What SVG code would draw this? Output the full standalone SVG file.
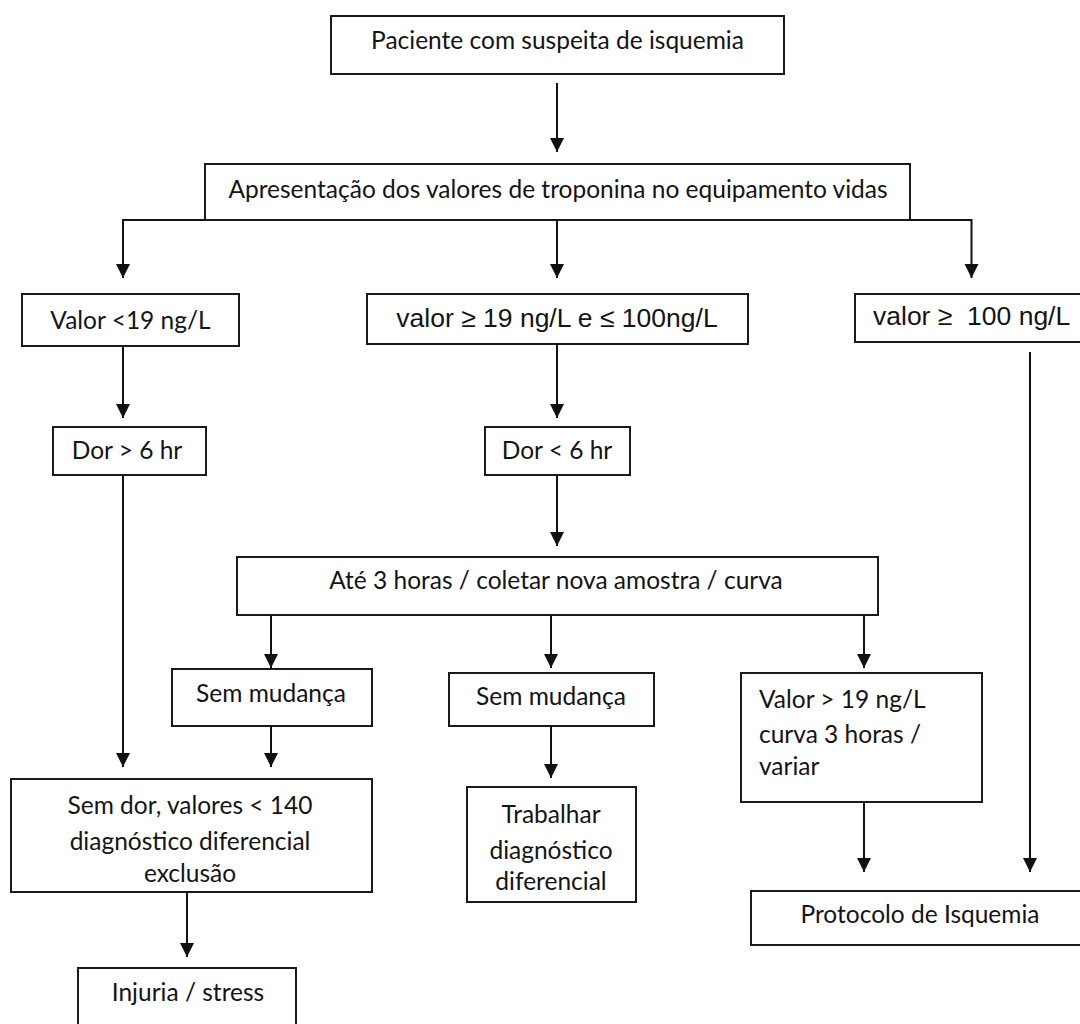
<svg xmlns="http://www.w3.org/2000/svg" width="1080" height="1024" viewBox="0 0 1080 1024">
<defs>
<marker id="arr" markerUnits="userSpaceOnUse" markerWidth="16" markerHeight="16" refX="14" refY="7" orient="auto">
<path d="M0,0 L14,7 L0,14 z" fill="#111"/>
</marker>
<style>
.box{fill:#fff;stroke:#1a1a1a;stroke-width:2}
.t{font-family:Lato,"Liberation Sans",sans-serif;font-size:24.5px;fill:#141414;text-anchor:middle}
.a{font-family:"Liberation Sans",Arial,sans-serif;font-size:26.5px;fill:#141414;text-anchor:middle}
.l{font-family:Lato,"Liberation Sans",sans-serif;font-size:24.5px;fill:#141414}
.c{fill:none;stroke:#111;stroke-width:2}
.ca{fill:none;stroke:#111;stroke-width:2;marker-end:url(#arr)}
</style>
</defs>
<rect width="1080" height="1024" fill="#fff"/>
<g id="n1"><rect class="box" x="331" y="16" width="453" height="58"/><text class="t" x="557.5" y="49">Paciente com suspeita de isquemia</text></g>
<g id="n2"><rect class="box" x="205" y="164" width="705" height="56"/><text class="t" x="558" y="198">Apresentação dos valores de troponina no equipamento vidas</text></g>
<g id="n3"><rect class="box" x="22" y="294" width="217" height="52"/><text class="t" x="130.5" y="329">Valor &lt;19 ng/L</text></g>
<g id="n4"><rect class="box" x="367" y="294" width="381" height="50"/><text class="a" x="557" y="327">valor ≥ 19 ng/L e ≤ 100ng/L</text></g>
<g id="n5"><rect class="box" x="855" y="294" width="235" height="48"/><text class="a" x="873" y="325" style="text-anchor:start" xml:space="preserve">valor ≥  100 ng/L</text></g>
<g id="n6"><rect class="box" x="53" y="427" width="153" height="48"/><text class="t" x="127" y="459">Dor &gt; 6 hr</text></g>
<g id="n7"><rect class="box" x="485" y="427" width="145" height="48"/><text class="t" x="557" y="459">Dor &lt; 6 hr</text></g>
<g id="n8"><rect class="box" x="237" y="557" width="641" height="58"/><text class="t" x="556" y="589">Até 3 horas / coletar nova amostra / curva</text></g>
<g id="n9"><rect class="box" x="172" y="669" width="200" height="57"/><text class="t" x="271" y="702">Sem mudança</text></g>
<g id="n10"><rect class="box" x="449" y="673" width="205" height="53"/><text class="t" x="551" y="705">Sem mudança</text></g>
<g id="n11"><rect class="box" x="741" y="673" width="241" height="129"/><text class="l" x="759" y="708">Valor &gt; 19 ng/L</text><text class="l" x="759" y="743">curva 3 horas /</text><text class="l" x="759" y="775">variar</text></g>
<g id="n12"><rect class="box" x="11" y="779" width="361" height="113"/><text class="t" x="190" y="814">Sem dor, valores &lt; 140</text><text class="t" x="190" y="850">diagnóstico diferencial</text><text class="t" x="190" y="882">exclusão</text></g>
<g id="n13"><rect class="box" x="467" y="787" width="169" height="115"/><text class="t" x="551" y="823">Trabalhar</text><text class="t" x="551" y="859">diagnóstico</text><text class="t" x="551" y="890">diferencial</text></g>
<g id="n14"><rect class="box" x="751" y="891" width="340" height="54"/><text class="t" x="920" y="923">Protocolo de Isquemia</text></g>
<g id="n15"><rect class="box" x="78" y="968" width="218" height="70"/><text class="t" x="188" y="1001">Injuria / stress</text></g>
<g id="connectors">
<path class="ca" d="M557,83 L557,152"/>
<path class="ca" d="M205,220 L123,220 L123,278"/>
<path class="ca" d="M557,220 L557,278"/>
<path class="ca" d="M910,220 L971.5,220 L971.5,278"/>
<path class="ca" d="M123,346 L123,418"/>
<path class="ca" d="M557,344 L557,418"/>
<path class="ca" d="M557,475 L557,546"/>
<path class="ca" d="M1030,352 L1030,872"/>
<path class="ca" d="M123,475 L123,767"/>
<path class="ca" d="M271,615 L271,668"/>
<path class="ca" d="M551,615 L551,668"/>
<path class="ca" d="M864,615 L864,668"/>
<path class="ca" d="M271,726 L271,767"/>
<path class="ca" d="M551,726 L551,778"/>
<path class="ca" d="M864,802 L864,872"/>
<path class="ca" d="M187,892 L187,957"/>
</g>
</svg>
